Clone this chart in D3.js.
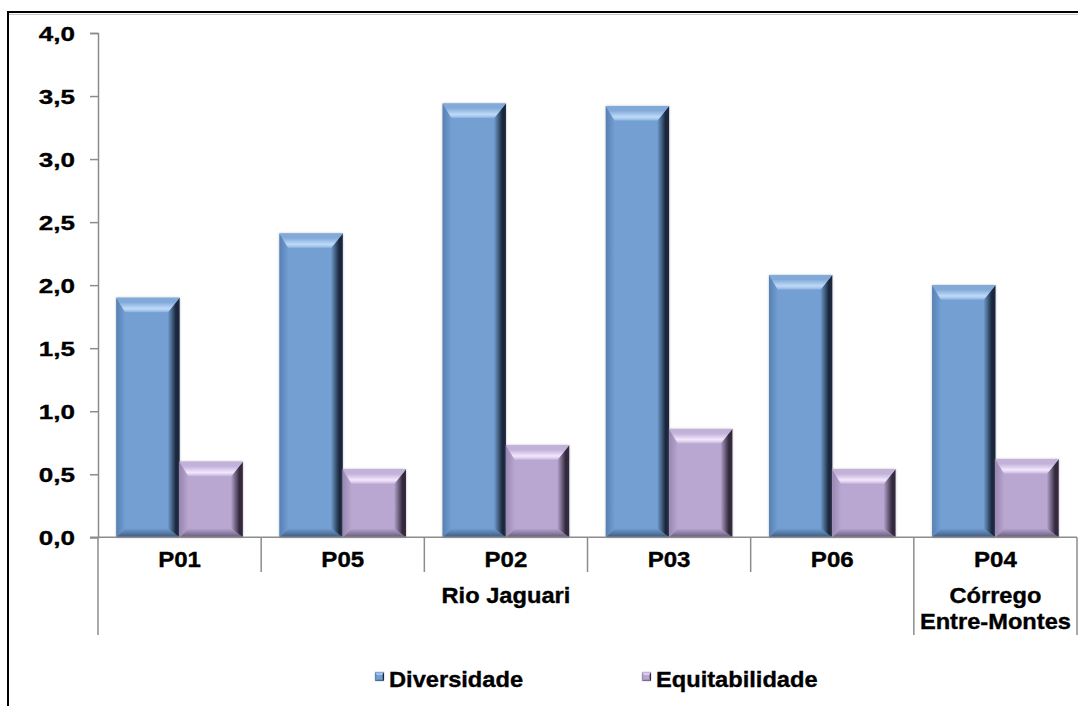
<!DOCTYPE html>
<html>
<head>
<meta charset="utf-8">
<script src="https://cdn.jsdelivr.net/npm/d3@7"></script>
<style>
  body { margin: 0; background: #fff; }
  svg { display: block; }
  text { font-family: "Liberation Sans", Arial, sans-serif; font-weight: bold; fill: #000; stroke: #000; stroke-width: 0.35px; }
</style>
</head>
<body>
<svg id="chart" width="1078" height="706"></svg>
<script>
// Sampling points along the two water courses
const categories = ["P01", "P05", "P02", "P03", "P06", "P04"];
const seriesNames = ["Diversidade", "Equitabilidade"];
const diversidade = [1.90, 2.41, 3.44, 3.42, 2.08, 2.00];
const equitabilidade = [0.60, 0.54, 0.73, 0.86, 0.54, 0.62];
const yTicks = [0, 0.5, 1.0, 1.5, 2.0, 2.5, 3.0, 3.5, 4.0];
const groupLabels = [["Rio Jaguari"], ["Córrego", "Entre-Montes"]];
const groupFirst = ["P01", "P04"];
const groupLast = ["P06", "P04"];

const seriesValues = [diversidade, equitabilidade];

const svg = d3.select("#chart");
const W = 1078, H = 706;

const plot = { left: 98, right: 1077, top: 33, bottom: 537.3 };

const x = d3.scaleBand().domain(categories).range([plot.left, plot.right]).paddingInner(0).paddingOuter(0);
const xs = d3.scaleBand().domain(seriesNames).range([0, x.bandwidth()]).paddingInner(0).paddingOuter(0.29);
const y = d3.scaleLinear().domain([0, 4]).range([plot.bottom, plot.top]);

// bevel palettes per series
const palettes = {
  "Diversidade":    { id: "blu", base: "#739fd2", topEdge: "#82aad9", topLight: "#bedaf8", topMid: "#a2c3ea", left: "#5780b3", right: "#1a283c", bottom: "#3b5880" },
  "Equitabilidade": { id: "pur", base: "#b9a7d1", topEdge: "#c2b1d9", topLight: "#f3e7fd", topMid: "#d8c9e8", left: "#9887b0", right: "#342b3e", bottom: "#68597a" }
};

const defs = svg.append("defs");
Object.values(palettes).forEach(p => {
  const lg = (id, x2, y2, stops) => {
    const g = defs.append("linearGradient").attr("id", id)
      .attr("x1", 0).attr("y1", 0).attr("x2", x2).attr("y2", y2);
    stops.forEach(s => g.append("stop").attr("offset", s[0]).attr("stop-color", s[1]));
  };
  lg(p.id + "-top", 0, 1, [["0%", p.topEdge], ["30%", p.topEdge], ["72%", p.topLight], ["88%", p.topMid], ["100%", p.base]]);
  lg(p.id + "-right", 1, 0, [["0%", p.base], ["70%", p.right], ["100%", p.right]]);
  lg(p.id + "-left", 1, 0, [["0%", p.left], ["100%", p.base]]);
  lg(p.id + "-bottom", 0, 1, [["0%", p.base], ["100%", p.bottom]]);
});
const flt = defs.append("filter").attr("id", "soft").attr("x", "-10%").attr("y", "-10%").attr("width", "120%").attr("height", "120%");
flt.append("feDropShadow").attr("dx", 0).attr("dy", 0).attr("stdDeviation", 0.9)
  .attr("flood-color", "#8a8a8a").attr("flood-opacity", 0.55);

// outer frame
svg.append("rect").attr("x", 8).attr("y", 12).attr("width", 1200).attr("height", 900)
  .attr("fill", "none").attr("stroke", "#000").attr("stroke-width", 2);
svg.append("line").attr("x1", 9).attr("x2", W).attr("y1", 14.5).attr("y2", 14.5)
  .attr("stroke", "#c8c8c8").attr("stroke-width", 1);

function bevelBar(g, x0, y0, w, h, pal, t, l, r, b) {
  const x1 = x0 + w, y1 = y0 + h;
  t = Math.min(t, h / 2); b = Math.min(b, h / 2);
  const bar = g.append("g").attr("filter", "url(#soft)");
  bar.append("rect").attr("x", x0).attr("y", y0).attr("width", w).attr("height", h).attr("fill", pal.base);
  const poly = (pts, fill) => bar.append("polygon").attr("points", pts.map(p => p.join(",")).join(" ")).attr("fill", fill);
  poly([[x0, y1], [x1, y1], [x1 - r, y1 - b], [x0 + l, y1 - b]], `url(#${pal.id}-bottom)`);
  poly([[x0, y0], [x0 + l, y0 + t], [x0 + l, y1 - b], [x0, y1]], `url(#${pal.id}-left)`);
  poly([[x1, y0], [x1, y1], [x1 - r, y1 - b], [x1 - r, y0 + t]], `url(#${pal.id}-right)`);
  poly([[x0, y0], [x1, y0], [x1 - r, y0 + t], [x0 + l, y0 + t]], `url(#${pal.id}-top)`);
}

function stretchText(g, txt, tx, ty, size, sx, anchor) {
  return g.append("text").attr("transform", `translate(${tx},${ty}) scale(${sx},1)`)
    .attr("text-anchor", anchor || "middle").style("font-size", size + "px").text(txt);
}

// bars
const barsG = svg.append("g");
categories.forEach((c, i) => {
  seriesNames.forEach((s, k) => {
    const v = seriesValues[k][i];
    const bx = x(c) + xs(s);
    bevelBar(barsG, bx, y(v), xs.bandwidth(), y(0) - y(v), palettes[s], 15, 9, 12, 9);
  });
});

// y axis
const fmt = v => d3.format(".1f")(v).replace(".", ",");
const yAxis = svg.append("g").attr("transform", `translate(${plot.left},0)`)
  .call(d3.axisLeft(y).tickValues(yTicks).tickSize(8).tickFormat(""));
yAxis.select(".domain").attr("stroke", "#8c8c8c").attr("stroke-width", 1.5);
yAxis.selectAll(".tick line").attr("stroke", "#8c8c8c").attr("stroke-width", 1.5);
yTicks.forEach(v => stretchText(svg, fmt(v), plot.left - 23, y(v) + 7.5, 20.5, 1.27, "end"));

// x axis line and category dividers
const axisCol = "#8c8c8c";
svg.append("line").attr("x1", plot.left - 8).attr("x2", plot.right).attr("y1", y(0)).attr("y2", y(0))
  .attr("stroke", axisCol).attr("stroke-width", 1.5);
const groupEdges = new Set();
groupFirst.forEach(c => groupEdges.add(x(c)));
groupLast.forEach(c => groupEdges.add(x(c) + x.bandwidth()));
const edges = categories.map(c => x(c)).concat([x(categories[categories.length - 1]) + x.bandwidth()]);
edges.forEach(e => {
  const long = [...groupEdges].some(g => Math.abs(g - e) < 0.5);
  svg.append("line").attr("x1", e).attr("x2", e).attr("y1", y(0)).attr("y2", long ? 635 : 572)
    .attr("stroke", axisCol).attr("stroke-width", 1.5);
});

// category labels
categories.forEach(c => stretchText(svg, c, x(c) + x.bandwidth() / 2, 566.5, 21.5, 1.12));

// group labels
groupLabels.forEach((lines, gi) => {
  const cx = (x(groupFirst[gi]) + x(groupLast[gi]) + x.bandwidth()) / 2;
  lines.forEach((ln, j) => stretchText(svg, ln, cx, 603.3 + j * 26, 21.5, 1.1));
});

// legend
const legendX = [375, 642];
seriesNames.forEach((s, k) => {
  bevelBar(svg, legendX[k], 672, 9, 9, palettes[s], 3, 2, 2, 2);
  stretchText(svg, s, legendX[k] + 14, 686.7, 21.5, 1.1, "start");
});
</script>
</body>
</html>
